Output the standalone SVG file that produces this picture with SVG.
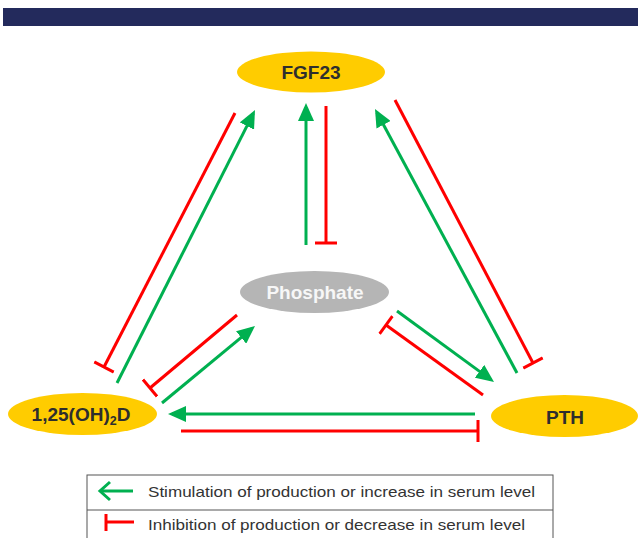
<svg xmlns="http://www.w3.org/2000/svg" width="638" height="538" viewBox="0 0 638 538">
<style>
.node-label{font-family:"Liberation Sans",Arial,sans-serif;font-weight:bold;font-size:19px;fill:#2e2e2e;text-anchor:middle}
.stim{stroke:#00b050;stroke-width:3;fill:none}
.inh{stroke:#ff0000;stroke-width:3;fill:none}
.legend-text{font-family:"Liberation Sans",Arial,sans-serif;font-size:15px;fill:#333333}
</style>
<defs>
<marker id="arrow" markerUnits="userSpaceOnUse" viewBox="0 0 18 16" markerWidth="18" markerHeight="16" refX="14" refY="8" orient="auto">
<path d="M0,0 L18,8 L0,16 z" fill="#00b050"/>
</marker>
<marker id="bar" markerUnits="userSpaceOnUse" viewBox="0 0 4 22" markerWidth="4" markerHeight="22" refX="2" refY="11" orient="auto">
<path d="M2,0 V22" stroke="#ff0000" stroke-width="3"/>
</marker>
</defs>
<rect x="0" y="0" width="638" height="538" fill="#ffffff"/>
<rect id="header" x="3" y="8" width="635" height="18" fill="#232a5c"/>

<g id="connectors">
<line class="stim" x1="306" y1="245" x2="306" y2="107" marker-end="url(#arrow)"/>
<line class="inh" x1="326" y1="106" x2="326" y2="243" marker-end="url(#bar)"/>
<line class="stim" x1="117" y1="383" x2="253.2" y2="113.6" marker-end="url(#arrow)"/>
<line class="inh" x1="235" y1="113" x2="104" y2="367" marker-end="url(#bar)"/>
<line class="stim" x1="517" y1="373" x2="376.9" y2="112.5" marker-end="url(#arrow)"/>
<line class="inh" x1="395" y1="100" x2="533" y2="363" marker-end="url(#bar)"/>
<line class="stim" x1="162" y1="403" x2="251.9" y2="328.6" marker-end="url(#arrow)"/>
<line class="inh" x1="237" y1="315" x2="150" y2="388" marker-end="url(#bar)"/>
<line class="stim" x1="397" y1="311" x2="490.8" y2="379.6" marker-end="url(#arrow)"/>
<line class="inh" x1="483" y1="395" x2="386" y2="325" marker-end="url(#bar)"/>
<line class="stim" x1="475" y1="414" x2="172" y2="414" marker-end="url(#arrow)"/>
<line class="inh" x1="181" y1="431" x2="478" y2="431" marker-end="url(#bar)"/>
</g>

<g id="node-fgf23">
<ellipse cx="311" cy="72" rx="74" ry="20.5" fill="#ffcc00"/>
<text class="node-label" x="311" y="78.5">FGF23</text>
</g>
<g id="node-phosphate">
<ellipse cx="314.5" cy="292" rx="74.5" ry="21" fill="#b5b5b5"/>
<text class="node-label" x="315" y="298.5" style="fill:#f7f7f7">Phosphate</text>
</g>
<g id="node-vitd">
<ellipse cx="82.5" cy="414" rx="74.5" ry="21" fill="#ffcc00"/>
<text class="node-label" x="81" y="421">1,25(OH)<tspan font-size="12.5" dy="4">2</tspan><tspan dy="-4">D</tspan></text>
</g>
<g id="node-pth">
<ellipse cx="564.5" cy="416" rx="73.5" ry="21" fill="#ffcc00"/>
<text class="node-label" x="565" y="424">PTH</text>
</g>

<g id="legend">
<rect x="87" y="475" width="466" height="75" fill="none" stroke="#555555" stroke-width="1"/>
<line x1="87" y1="510" x2="553" y2="510" stroke="#555555" stroke-width="1"/>
<line x1="101" y1="491" x2="133" y2="491" stroke="#00b050" stroke-width="3"/>
<polyline points="110,482 100,491 110,500" fill="none" stroke="#00b050" stroke-width="3"/>
<text class="legend-text" x="148" y="497" textLength="387" lengthAdjust="spacingAndGlyphs">Stimulation of production or increase in serum level</text>
<line x1="106" y1="522" x2="134" y2="522" stroke="#ff0000" stroke-width="3"/>
<line x1="106" y1="514" x2="106" y2="531" stroke="#ff0000" stroke-width="3"/>
<text class="legend-text" x="148" y="530" textLength="377" lengthAdjust="spacingAndGlyphs">Inhibition of production or decrease in serum level</text>
</g>
</svg>
